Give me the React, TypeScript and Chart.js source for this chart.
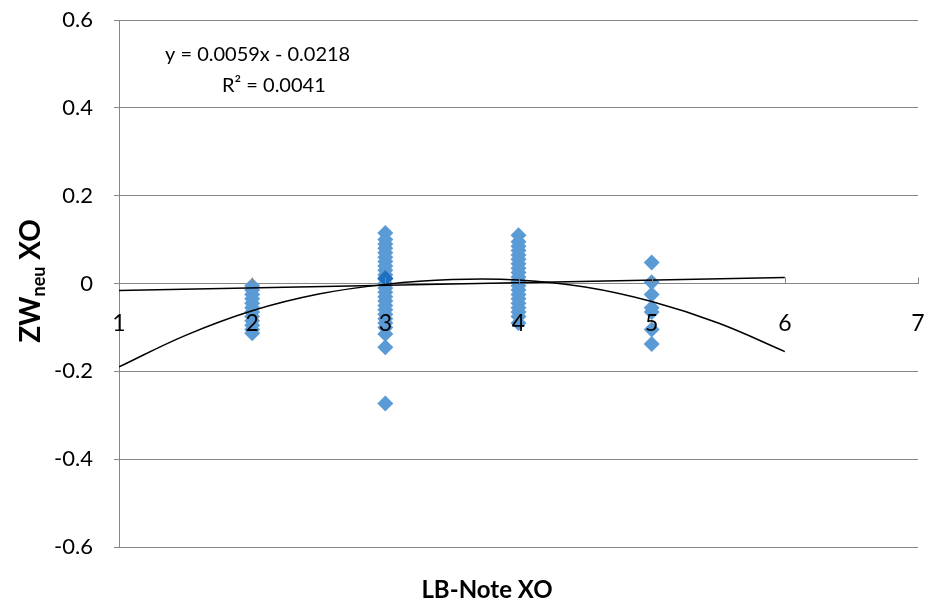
import React, { useEffect, useRef } from "react";
import { Chart, registerables } from "chart.js";

Chart.register(...registerables);

const FONT = "Lato";

const yTicksMin = -0.6;
const yTicksMax = 0.6;
const yStep = 0.2;
const xMin = 1;
const xMax = 7;
const xTickValues = [1, 2, 3, 4, 5, 6, 7];

const ptsX2 = [-0.005, -0.015, -0.025, -0.035, -0.045, -0.055, -0.065, -0.075, -0.085, -0.095, -0.105, -0.113];
const ptsX3 = [0.115, 0.1, 0.09, 0.08, 0.07, 0.06, 0.05, 0.04, 0.03, 0.02, 0.01, 0, -0.01, -0.02, -0.03, -0.04, -0.05, -0.06, -0.07, -0.08, -0.09, -0.1, -0.115, -0.145, -0.273];
const ptsX4 = [0.11, 0.095, 0.085, 0.075, 0.065, 0.055, 0.045, 0.035, 0.025, 0.015, 0.005, -0.005, -0.015, -0.025, -0.035, -0.045, -0.055, -0.065, -0.075, -0.09];
const ptsX5 = [0.048, 0.003, -0.025, -0.055, -0.065, -0.105, -0.138];
const darkPoint = { x: 3, y: 0.012 };

const linX = [1, 6];
const linY = [-0.0159, 0.0136];

const curveX = [1, 1.5, 2, 2.5, 3, 3.5, 4, 4.5, 5, 5.5, 6];
const curveY = [-0.19, -0.118, -0.062, -0.024, -0.002, 0.009, 0.008, -0.008, -0.041, -0.09, -0.155];

const eqLine1 = "y = 0.0059x - 0.0218";
const eqLine2 = "R² = 0.0041";
const xTitle = "LB-Note XO";
const yTitleMain = "ZW";
const yTitleSub = "neu";
const yTitleRest = " XO";

const toPts = (x: number, ys: number[]) => ys.map((y) => ({ x, y }));

const overlayPlugin = {
  id: "overlay",
  afterDatasetDraw(chart: any, args: any) {
    if (args.index !== 3) return;
    const ctx = chart.ctx;
    const xs = chart.scales.x;
    const ys = chart.scales.y;
    const y0 = ys.getPixelForValue(0);
    ctx.save();
    ctx.fillStyle = "#000";
    ctx.font = `23px ${FONT}`;
    ctx.textAlign = "center";
    ctx.textBaseline = "middle";
    for (const v of xTickValues) {
      ctx.fillText(String(v), xs.getPixelForValue(v), y0 + 40);
    }
    ctx.restore();
  },
  afterDraw(chart: any) {
    const ctx = chart.ctx;
    const xs = chart.scales.x;
    const ys = chart.scales.y;
    const y0 = ys.getPixelForValue(0);
    ctx.save();
    ctx.strokeStyle = "#868686";
    ctx.lineWidth = 1;
    for (const v of xTickValues) {
      if (v === xMin) continue;
      const px = Math.round(xs.getPixelForValue(v)) + 0.5;
      ctx.beginPath();
      ctx.moveTo(px, y0);
      ctx.lineTo(px, y0 - 6);
      ctx.stroke();
    }
    ctx.fillStyle = "#000";
    ctx.font = `20px ${FONT}`;
    ctx.textBaseline = "middle";
    ctx.textAlign = "left";
    ctx.fillText(eqLine1, 165, 55);
    ctx.fillText(eqLine2, 222, 86);
    ctx.font = `bold 24px ${FONT}`;
    ctx.textAlign = "center";
    ctx.fillText(xTitle, 487, 590);
    ctx.translate(31, 281);
    ctx.rotate(-Math.PI / 2);
    const fMain = `bold 28px ${FONT}`;
    const fSub = `bold 18px ${FONT}`;
    ctx.font = fMain;
    const w1 = ctx.measureText(yTitleMain).width;
    const w3 = ctx.measureText(yTitleRest).width;
    ctx.font = fSub;
    const w2 = ctx.measureText(yTitleSub).width;
    let cx = -(w1 + w2 + w3) / 2;
    ctx.textAlign = "left";
    ctx.font = fMain;
    ctx.fillText(yTitleMain, cx, 0);
    cx += w1;
    ctx.font = fSub;
    ctx.fillText(yTitleSub, cx, 8);
    cx += w2;
    ctx.font = fMain;
    ctx.fillText(yTitleRest, cx, 0);
    ctx.restore();
  },
};

export default function App() {
  const ref = useRef<HTMLCanvasElement | null>(null);
  useEffect(() => {
    if (!ref.current) return;
    const blue = "#5B9BD5";
    const chart = new Chart(ref.current, {
      type: "scatter",
      data: {
        datasets: [
          {
            label: "linear",
            data: linX.map((x, i) => ({ x, y: linY[i] })),
            showLine: true,
            borderColor: "#000",
            borderWidth: 1.5,
            pointRadius: 0,
            order: 0,
          },
          {
            label: "poly",
            data: curveX.map((x, i) => ({ x, y: curveY[i] })),
            showLine: true,
            borderColor: "#000",
            borderWidth: 1.5,
            pointRadius: 0,
            tension: 0.4,
            order: 0,
          },
          {
            label: "dark",
            data: [darkPoint],
            pointStyle: "rectRot",
            pointRadius: 8,
            backgroundColor: "#1F6FBF",
            borderColor: "#1F6FBF",
            borderWidth: 0,
            order: 1,
          },
          {
            label: "data",
            data: [...toPts(2, ptsX2), ...toPts(3, ptsX3), ...toPts(4, ptsX4), ...toPts(5, ptsX5)],
            pointStyle: "rectRot",
            pointRadius: 8,
            backgroundColor: blue,
            borderColor: blue,
            borderWidth: 0,
            order: 2,
          },
        ],
      },
      options: {
        animation: false,
        responsive: false,
        maintainAspectRatio: false,
        events: [],
        layout: { padding: { top: 20, right: 18, bottom: 56, left: 0 } },
        plugins: { legend: { display: false }, tooltip: { enabled: false } },
        scales: {
          x: {
            type: "linear",
            min: xMin,
            max: xMax,
            position: { y: 0 } as any,
            ticks: { display: false, stepSize: 1 },
            grid: { display: false },
            border: { display: true, color: "#868686", width: 1 },
          },
          y: {
            type: "linear",
            min: yTicksMin,
            max: yTicksMax,
            ticks: {
              stepSize: yStep,
              color: "#000",
              font: { family: FONT, size: 22 },
              padding: 21,
              callback: (v: any) => String(Math.round(Number(v) * 10) / 10),
            },
            grid: { color: "#868686", lineWidth: 1, tickLength: 5 },
            border: { display: true, color: "#868686", width: 1 },
            afterFit: (s: any) => {
              s.width = 119;
              s.paddingTop = 0;
              s.paddingBottom = 0;
            },
          },
        },
      },
      plugins: [overlayPlugin],
    } as any);
    return () => chart.destroy();
  }, []);
  return (
    <div style={{ position: "fixed", left: 0, top: 0, width: 936, height: 603, background: "#fff" }}>
      <canvas ref={ref} width={936} height={603} />
    </div>
  );
}
